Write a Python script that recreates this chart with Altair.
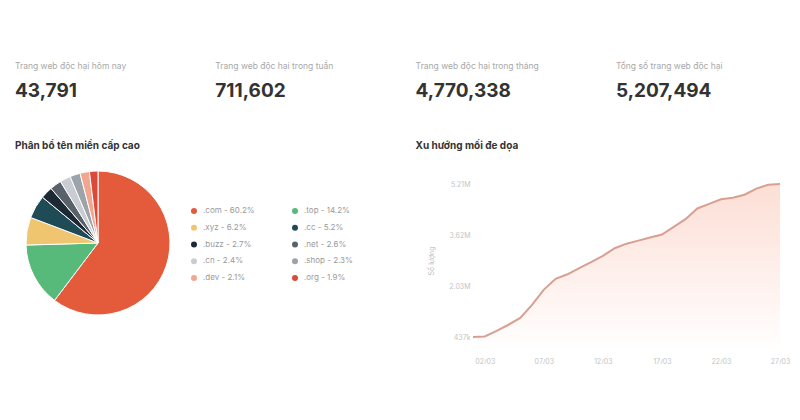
import altair as alt
import pandas as pd

# ---------------- data ----------------
kpi_labels = ["Trang web độc hại hôm nay", "Trang web độc hại trong tuần",
              "Trang web độc hại trong tháng", "Tổng số trang web độc hại"]
kpi_values = ["43,791", "711,602", "4,770,338", "5,207,494"]
section_titles = ["Phân bổ tên miền cấp cao", "Xu hướng mối đe dọa"]
section_slots = [0, 2]

tlds = [".com", ".top", ".xyz", ".cc", ".buzz", ".net", ".cn", ".shop", ".dev", ".org"]
tld_pct = [60.2, 14.2, 6.2, 5.2, 2.7, 2.6, 2.4, 2.3, 2.1, 1.9]
tld_colors = ["#e35b3b", "#57b97a", "#efc56f", "#1f4b57", "#1d2a35",
              "#59626b", "#c9cdd3", "#9ca3aa", "#f3a68f", "#d94a3b"]

dates = ["01/03", "02/03", "03/03", "04/03", "05/03", "06/03", "07/03", "08/03", "09/03",
         "10/03", "11/03", "12/03", "13/03", "14/03", "15/03", "16/03", "17/03", "18/03",
         "19/03", "20/03", "21/03", "22/03", "23/03", "24/03", "25/03", "26/03", "27/03"]
threats = [437156, 452000, 628000, 819000, 1033000, 1439000, 1916000, 2250000, 2393000,
           2584000, 2775000, 2965000, 3204000, 3347000, 3442000, 3538000, 3633000, 3872000,
           4110000, 4444000, 4587000, 4730000, 4778000, 4874000, 5064000, 5184000, 5207494]
x_ticks = ["02/03", "07/03", "12/03", "17/03", "22/03", "27/03"]
y_ticks = [437156, 2027269, 3617381, 5207494]

FONT = "Inter"

# ---------------- row 1: KPI cards + section titles ----------------
kpi_df = pd.DataFrame({"slot": list(range(4)), "label": kpi_labels, "value": kpi_values})
title_df = pd.DataFrame({"slot": section_slots, "title": section_titles})

slot_x = alt.X("slot:Q", axis=None, scale=alt.Scale(domain=[-0.035, 3.879], nice=False, zero=False))

kpi_label_layer = alt.Chart(kpi_df).mark_text(
    align="left", baseline="alphabetic", fontSize=8.5, color="#a8a8a8", font=FONT
).encode(x=slot_x, y=alt.value(61), text="label:N")

kpi_value_layer = alt.Chart(kpi_df).mark_text(
    align="left", baseline="alphabetic", fontSize=19, fontWeight=700, color="#333333", font=FONT
).encode(x=slot_x, y=alt.value(89), text="value:N")

title_layer = alt.Chart(title_df).mark_text(
    align="left", baseline="alphabetic", fontSize=10, fontWeight=700, color="#333333", font=FONT
).encode(x=slot_x, y=alt.value(141), text="title:N")

row1 = alt.layer(kpi_label_layer, kpi_value_layer, title_layer).properties(width=784, height=176)

# ---------------- row 2: pie ----------------
pie_df = pd.DataFrame({
    "idx": list(range(len(tlds))),
    "tld": tlds,
    "pct": tld_pct,
    "legend_label": [f"{t} - {p}%" for t, p in zip(tlds, tld_pct)],
    "col": [i % 2 for i in range(len(tlds))],
    "row": [i // 2 for i in range(len(tlds))],
})

color_scale = alt.Scale(domain=tlds, range=tld_colors)

pie = alt.Chart(pie_df).mark_arc(outerRadius=72, stroke="white", strokeWidth=1).encode(
    theta=alt.Theta("pct:Q", stack=True),
    color=alt.Color("tld:N", scale=color_scale, legend=None),
    order=alt.Order("idx:Q"),
).properties(width=180, height=118)

# custom two-column legend
leg_x = alt.X("col:O", axis=None, scale=alt.Scale(type="point", padding=0, range=[6, 107]))
leg_y = alt.Y("row:O", axis=None, scale=alt.Scale(type="point", padding=0, range=[27, 94]))

leg_points = alt.Chart(pie_df).mark_point(filled=True, size=36, opacity=1).encode(
    x=leg_x, y=leg_y, color=alt.Color("tld:N", scale=color_scale, legend=None)
)
leg_text = alt.Chart(pie_df).mark_text(
    align="left", baseline="middle", dx=9, fontSize=8, color="#9a9a9a", font=FONT
).encode(x=leg_x, y=leg_y, text="legend_label:N")

legend_chart = alt.layer(leg_points, leg_text).properties(width=285, height=118)

# ---------------- row 2: area trend ----------------
trend_df = pd.DataFrame({"date": dates, "threats": threats})

area = alt.Chart(trend_df).mark_area(
    line={"color": "#d99f91", "strokeWidth": 2},
    color=alt.Gradient(
        gradient="linear",
        stops=[alt.GradientStop(color="#fbd0c2", offset=0),
               alt.GradientStop(color="#ffffff", offset=1)],
        x1=0, x2=0, y1=0, y2=1,
    ),
).encode(
    x=alt.X("date:O", sort=None, title=None,
            scale=alt.Scale(type="point", padding=0),
            axis=alt.Axis(values=x_ticks, labelAngle=0, ticks=False, domain=False, grid=False,
                          labelPadding=20, labelFontSize=7, labelColor="#c4c4c4", labelFont=FONT)),
    y=alt.Y("threats:Q", title="Số lượng",
            scale=alt.Scale(domain=[y_ticks[0], y_ticks[-1]], nice=False, zero=False),
            axis=alt.Axis(values=y_ticks, format=".3s", ticks=False, domain=False, grid=False,
                          labelPadding=3, labelFontSize=7, labelColor="#c4c4c4", labelFont=FONT,
                          titleFontSize=7, titleColor="#bcbcbc", titleFontWeight="normal",
                          titleFont=FONT, titlePadding=14)),
).properties(width=307, height=153)

row2 = alt.hconcat(pie, legend_chart, area, spacing=0, bounds="flush")

chart = alt.vconcat(row1, row2, spacing=0, bounds="flush").properties(
    padding=0, background="white"
).configure(font=FONT, view=alt.ViewConfig(stroke=None))

chart.save("out.html", embed_options={"renderer": "svg", "actions": False})
